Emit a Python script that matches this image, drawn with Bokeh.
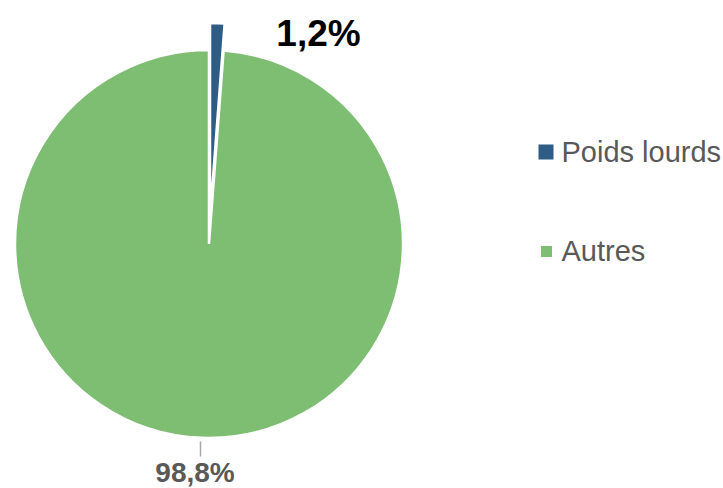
import math
from bokeh.plotting import figure
from bokeh.models import Range1d, ColumnDataSource
from bokeh.core.properties import value
from bokeh.embed import file_html
from bokeh.resources import INLINE

categories = ["Poids lourds", "Autres"]
values = [1.2, 98.8]
labels = ["1,2%", "98,8%"]
colors = ["#2E5C84", "#7DBE73"]

W, H = 723, 488
p = figure(width=W, height=H, output_backend="svg", toolbar_location=None,
           x_range=Range1d(0, W), y_range=Range1d(0, H), min_border=0)
p.axis.visible = False
p.grid.visible = False
p.outline_line_color = None
p.background_fill_color = "white"
p.border_fill_color = "white"

FONT = value("Liberation Sans")

# pie geometry (layout)
cx, cy, r = 208.5, 244.5, 194
explode = [27, 0]

total = sum(values)
start = math.pi / 2
starts, ends, xs, ys = [], [], [], []
for v, e in zip(values, explode):
    sweep = 2 * math.pi * v / total
    end = start
    st = start - sweep
    mid = (st + end) / 2
    starts.append(st)
    ends.append(end)
    xs.append(cx + e * math.cos(mid))
    ys.append(cy + e * math.sin(mid))
    start = st

src = ColumnDataSource(dict(x=xs, y=ys, s=starts, e=ends, c=colors, cat=categories))
p.wedge(x="x", y="y", radius=r, start_angle="s", end_angle="e", fill_color="c",
        line_color="white", line_width=2.5, source=src)

# data labels
p.text(x=[318], y=[455], text=[labels[0]], text_font=FONT, text_font_size="37px",
       text_font_style="bold", text_color="#000000", text_align="center",
       text_baseline="middle")
p.segment(x0=[200], y0=[47], x1=[200], y1=[32], line_color="#A6A6A6", line_width=1.5)
p.text(x=[194.5], y=[1], text=[labels[1]], text_font=FONT, text_font_size="28px",
       text_font_style="bold", text_color="#595959", text_align="center",
       text_baseline="bottom")

# legend
p.rect(x=[545.5], y=[336.5], width=15, height=15, width_units="screen",
       height_units="screen", fill_color=colors[0], line_color=None)
p.rect(x=[546], y=[237], width=11, height=11, width_units="screen",
       height_units="screen", fill_color=colors[1], line_color=None)
p.text(x=[561, 561], y=[337, 238], text=categories, text_font=FONT,
       text_font_size="29px", text_color="#595959", text_align="left",
       text_baseline="middle")

open("out.html", "w").write(file_html(p, INLINE))
